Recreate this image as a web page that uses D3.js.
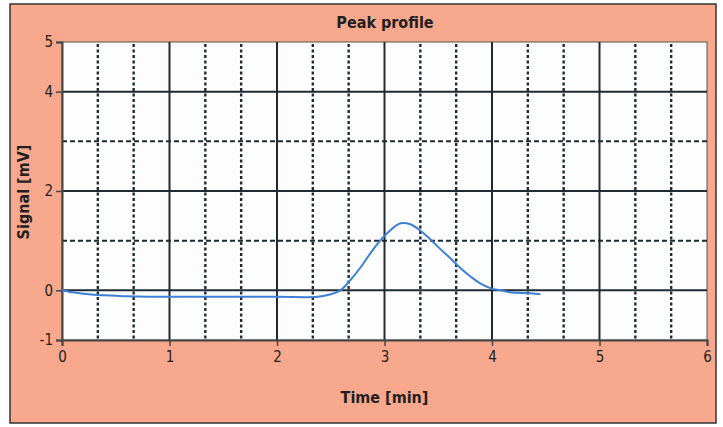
<!DOCTYPE html>
<html>
<head>
<meta charset="utf-8">
<script src="https://cdn.jsdelivr.net/npm/d3@7"></script>
<style>
  body { margin: 0; background: #fff; }
  text { font-family: "Liberation Sans Narrow", "DejaVu Sans Condensed", "Liberation Sans", sans-serif; fill: #231f20; }
</style>
</head>
<body>
<svg id="chart" width="723" height="427"></svg>
<script>
const time   = [0, 0.05, 0.1, 0.2, 0.3, 0.4, 0.5, 0.6, 0.8, 1.0, 1.5, 2.0, 2.38, 2.5, 2.59, 2.68, 2.78, 2.87, 2.96, 3.06, 3.15, 3.24, 3.34, 3.43, 3.52, 3.62, 3.71, 3.8, 3.89, 3.99, 4.08, 4.17, 4.36, 4.45];
const signal = [0, -0.02, -0.04, -0.07, -0.09, -0.1, -0.11, -0.12, -0.13, -0.13, -0.13, -0.13, -0.13, -0.08, 0, 0.2, 0.47, 0.75, 1.0, 1.22, 1.35, 1.33, 1.19, 1.02, 0.83, 0.63, 0.44, 0.28, 0.14, 0.04, 0, -0.04, -0.06, -0.08];

const yTickVals   = [-1, 0, 2, 4, 5];
const ySolidGrid  = [0, 2, 4];
const yDashedGrid = [1, 3];
const xTickVals   = [0, 1, 2, 3, 4, 5, 6];

const svg = d3.select("#chart");
const pLeft = 62, pRight = 707, pTop = 42, pBottom = 340;
const ink = "#1f2b30";

// panel
svg.append("rect")
  .attr("x", 10).attr("y", 4)
  .attr("width", 706).attr("height", 419)
  .attr("fill", "#f8a88c")
  .attr("stroke", "#333").attr("stroke-width", 1.5);

const x = d3.scaleLinear().domain([0, 6]).range([pLeft, pRight]);
const y = d3.scaleLinear().domain([-1, 5]).range([pBottom, pTop]);

svg.append("rect")
  .attr("x", pLeft).attr("y", pTop)
  .attr("width", pRight - pLeft).attr("height", pBottom - pTop)
  .attr("fill", "#fdfdfe")
  .attr("stroke", "#555").attr("stroke-width", 1);

// dotted verticals at thirds
const thirds = [];
for (let i = 0; i < 6; i++) { thirds.push(i + 1/3, i + 2/3); }

svg.append("g").selectAll("line")
  .data(thirds)
  .enter().append("line")
  .attr("x1", d => x(d)).attr("x2", d => x(d))
  .attr("y1", pTop + 2).attr("y2", pBottom)
  .attr("stroke", ink).attr("stroke-width", 2.4)
  .attr("stroke-dasharray", "3,2.5");

svg.append("g").selectAll("line")
  .data(yDashedGrid)
  .enter().append("line")
  .attr("x1", pLeft).attr("x2", pRight)
  .attr("y1", d => y(d)).attr("y2", d => y(d))
  .attr("stroke", ink).attr("stroke-width", 2)
  .attr("stroke-dasharray", "5,3");

svg.append("g").selectAll("line")
  .data([1, 2, 3, 4, 5])
  .enter().append("line")
  .attr("x1", d => x(d)).attr("x2", d => x(d))
  .attr("y1", pTop).attr("y2", pBottom)
  .attr("stroke", ink).attr("stroke-width", 2);

svg.append("g").selectAll("line")
  .data(ySolidGrid)
  .enter().append("line")
  .attr("x1", pLeft).attr("x2", pRight)
  .attr("y1", d => y(d)).attr("y2", d => y(d))
  .attr("stroke", ink).attr("stroke-width", 2);

// axes
const xAxis = svg.append("g")
  .attr("transform", `translate(0,${pBottom})`)
  .call(d3.axisBottom(x).tickValues(xTickVals).tickFormat(d => String(d)).tickSize(6).tickPadding(5));
const yAxis = svg.append("g")
  .attr("transform", `translate(${pLeft},0)`)
  .call(d3.axisLeft(y).tickValues(yTickVals).tickFormat(d => String(d)).tickSize(6).tickPadding(3));

[xAxis, yAxis].forEach(a => {
  a.select(".domain").attr("stroke", "#444").attr("stroke-width", 2);
  a.selectAll(".tick line").attr("stroke", "#444").attr("stroke-width", 1.5);
  a.selectAll(".tick text").style("font-size", "15px").attr("fill", "#231f20");
});

// curve
const pts = time.map((t, i) => [t, signal[i]]);
svg.append("path")
  .datum(pts)
  .attr("fill", "none")
  .attr("stroke", "#3d7fd6")
  .attr("stroke-width", 2)
  .attr("d", d3.line().x(d => x(d[0])).y(d => y(d[1])).curve(d3.curveCatmullRom.alpha(0.5)));

// titles
svg.append("text")
  .attr("x", (pLeft + pRight) / 2 + 0.5).attr("y", 28)
  .attr("text-anchor", "middle")
  .style("font-size", "16px").style("font-weight", "bold")
  .text("Peak profile");

svg.append("text")
  .attr("x", (pLeft + pRight) / 2).attr("y", 403)
  .attr("text-anchor", "middle")
  .style("font-size", "16px").style("font-weight", "bold")
  .text("Time [min]");

svg.append("text")
  .attr("transform", `translate(29,192) rotate(-90)`)
  .attr("text-anchor", "middle")
  .style("font-size", "16px").style("font-weight", "bold")
  .text("Signal [mV]");
</script>
</body>
</html>
